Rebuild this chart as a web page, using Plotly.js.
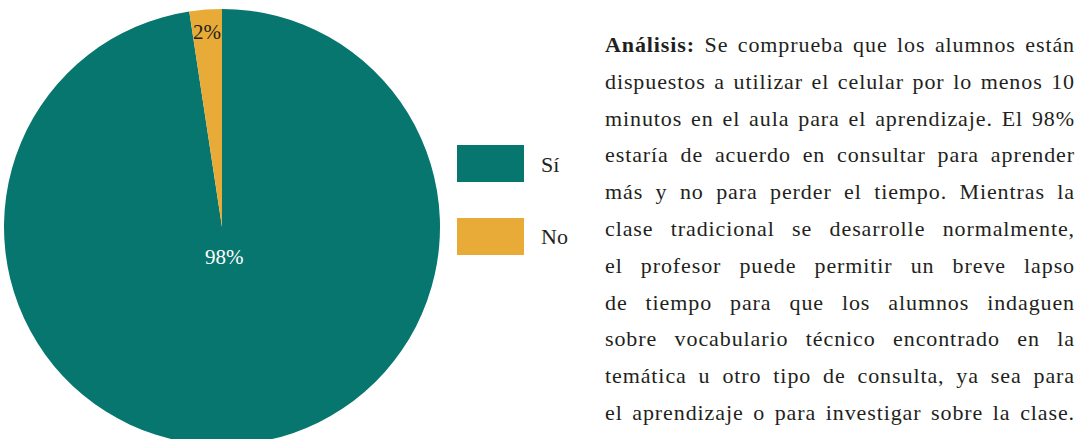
<!DOCTYPE html>
<html>
<head>
<meta charset="utf-8">
<script src="https://cdn.plot.ly/plotly-3.0.1.min.js"></script>
<style>
  html, body { margin: 0; padding: 0; background: #ffffff; overflow: hidden; width: 1088px; height: 439px; }
  #chart { position: absolute; left: 0; top: 0; width: 1088px; height: 450px; }
  #analysis {
    position: absolute; left: 605px; top: 27px; width: 470px;
    font-family: "Liberation Serif", "Times New Roman", serif;
    font-size: 22px; line-height: 36.8px; color: #231f20; letter-spacing: 0.9px;
  }
  #analysis div { text-align: justify; text-align-last: justify; white-space: normal; }
</style>
</head>
<body>
<div id="chart"></div>
<div id="analysis"></div>
<script>
const labels = ["Sí", "No"];
const values = [97.6, 2.4];
const colors = ["#06766E", "#E9AB38"];
const textColors = ["#ffffff", "#231f20"];
const analysisLines = [
  "<b>Análisis:</b> Se comprueba que los alumnos están",
  "dispuestos a utilizar el celular por lo menos 10",
  "minutos en el aula para el aprendizaje. El 98%",
  "estaría de acuerdo en consultar para aprender",
  "más y no para perder el tiempo. Mientras la",
  "clase tradicional se desarrolle normalmente,",
  "el profesor puede permitir un breve lapso",
  "de tiempo para que los alumnos indaguen",
  "sobre vocabulario técnico encontrado en la",
  "temática u otro tipo de consulta, ya sea para",
  "el aprendizaje o para investigar sobre la clase."
];

document.getElementById("analysis").innerHTML =
  analysisLines.map(l => "<div>" + l + "</div>").join("");

const W = 1088, H = 450;
const px0 = 4, px1 = 440, py0 = 9, py1 = 445;
const cx = (px0 + px1) / 2, cy = (py0 + py1) / 2, R = (px1 - px0) / 2;

const pie = {
  type: "pie",
  labels: labels,
  values: values,
  sort: false,
  direction: "clockwise",
  rotation: 0,
  marker: { colors: colors, line: { width: 0 } },
  textinfo: "none",
  hoverinfo: "none",
  showlegend: false,
  domain: { x: [px0 / W, px1 / W], y: [(H - py1) / H, (H - py0) / H] }
};

const shapes = [];
const annotations = [];

// slice percentage labels placed along each slice's bisector
const total = values.reduce((a, b) => a + b, 0);
const labelRadius = [0.14, 0.895];
let cum = 0;
values.forEach((v, i) => {
  const mid = (cum + v / 2) / total * 2 * Math.PI;
  cum += v;
  const x = cx + Math.sin(mid) * R * labelRadius[i];
  const y = cy - Math.cos(mid) * R * labelRadius[i];
  annotations.push({
    xref: "paper", yref: "paper", x: x / W, y: (H - y) / H,
    xanchor: "center", yanchor: "middle", showarrow: false,
    text: Math.round(v / total * 100) + "%",
    font: { family: "Liberation Serif, serif", size: 21, color: textColors[i] }
  });
});

// legend keys
const legendTop = [145, 218];
labels.forEach((lab, i) => {
  const y0 = legendTop[i], y1 = y0 + 37;
  shapes.push({
    type: "rect", xref: "paper", yref: "paper",
    x0: 457 / W, x1: 524 / W, y0: (H - y1) / H, y1: (H - y0) / H,
    fillcolor: colors[i], line: { width: 0 }
  });
  annotations.push({
    xref: "paper", yref: "paper", x: 539 / W, y: (H - (y0 + 19)) / H,
    xanchor: "left", yanchor: "middle", showarrow: false, text: lab,
    font: { family: "Liberation Serif, serif", size: 22, color: "#231f20" }
  });
});

Plotly.newPlot("chart", [pie], {
  width: W, height: H,
  margin: { l: 0, r: 0, t: 0, b: 0 },
  paper_bgcolor: "#ffffff",
  plot_bgcolor: "#ffffff",
  showlegend: false,
  shapes: shapes,
  annotations: annotations
}, { displayModeBar: false, staticPlot: true });
</script>
</body>
</html>
